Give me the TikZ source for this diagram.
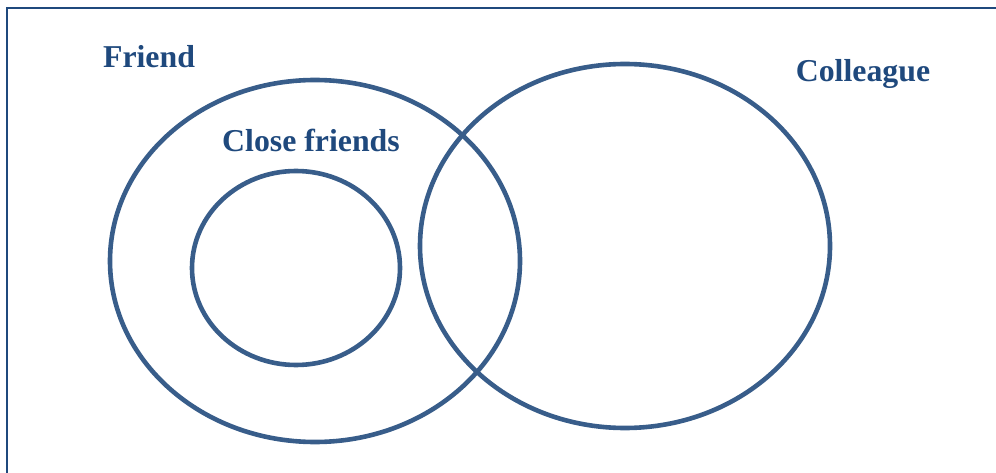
\documentclass[tikz,border=0pt]{standalone}
\usepackage{fontspec}
\setmainfont{Liberation Serif}
\usetikzlibrary{positioning,calc}
\definecolor{SetBlue}{RGB}{56,93,138}
\definecolor{LabBlue}{RGB}{31,73,125}
\tikzset{
  set/.style={ellipse,draw=SetBlue,line width=4.6pt,inner sep=0pt},
  lab/.style={text=LabBlue,font=\fontsize{31.8}{36}\selectfont\bfseries,inner sep=0pt,anchor=base},
  frame/.style={draw=LabBlue,line width=2.6pt},
}
\usetikzlibrary{shapes.geometric}

\begin{document}
\begin{tikzpicture}[x=1pt,y=-1pt]
\useasboundingbox (0,0) rectangle (996,473);
\coordinate (c1) at (7,8);
\coordinate (c2) at (1010,490);
\draw[frame] (c1) rectangle (c2);
\node[set,minimum width=410pt,minimum height=362pt] (friend) at (315,261) {};
\node[set,minimum width=208pt,minimum height=194pt] (close) at (296,268) {};
\node[set,minimum width=410pt,minimum height=364pt] (coll) at (625,246) {};
\node[lab] (tfriend) at (149,68) {Friend};
\node[lab] (tclose) at (311,152) {Close friends};
\node[lab] (tcoll) at (863,82) {Colleague};
\end{tikzpicture}
\end{document}
